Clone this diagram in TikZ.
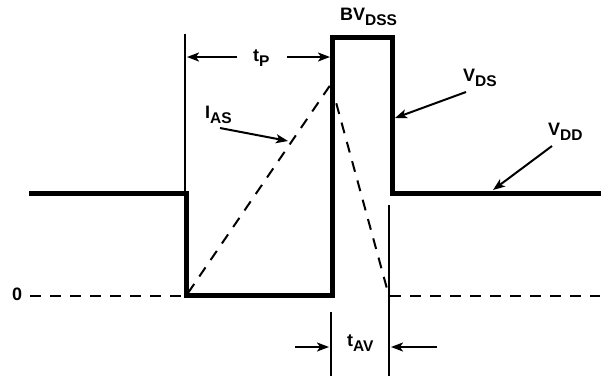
\documentclass[tikz,border=0pt]{standalone}
\usepackage{fontspec}
\setmainfont{Liberation Sans}
\usetikzlibrary{arrows.meta,positioning}

\newcommand{\lbl}[2]{#1\raisebox{-5pt}{\fontsize{15.5}{15.5}\selectfont #2}}

\begin{document}
\begin{tikzpicture}[x=1pt,y=-1pt,
  wave/.style={line width=5pt},
  hair/.style={line width=2pt},
  zero/.style={hair,dash pattern=on 11pt off 9pt},
  ptr/.style={hair,-{Stealth[length=12pt,width=9pt,inset=3pt]}},
  lab/.style={inner sep=0pt,anchor=base west,font=\fontsize{18}{20}\selectfont\bfseries}]
\useasboundingbox (0,0) rectangle (603,376);

\coordinate (w0) at (29,193);
\coordinate (w1) at (186,193);
\coordinate (w2) at (186,295);
\coordinate (w3) at (332,295);
\coordinate (w4) at (332,37);
\coordinate (w5) at (392,37);
\coordinate (w6) at (392,193);
\coordinate (w7) at (601,193);

\coordinate (z0) at (30,296);
\coordinate (z1) at (185,296);
\coordinate (z2) at (390,296);
\coordinate (z3) at (600,296);

\coordinate (peak) at (331,84);
\coordinate (foot) at (389,296);
\coordinate (start) at (188,293);

\coordinate (tptop) at (185,34);
\coordinate (tpbot) at (185,193);
\coordinate (av1top) at (331,312);
\coordinate (av1bot) at (331,376);
\coordinate (av2top) at (389,205);
\coordinate (av2bot) at (389,376);

\coordinate (tpl1) at (237,57);
\coordinate (tpl2) at (187,57);
\coordinate (tpr1) at (287,57);
\coordinate (tpr2) at (330,57);

\coordinate (ias1) at (220,128);
\coordinate (ias2) at (288,141);

\coordinate (vds1) at (466,92);
\coordinate (vds2) at (395,118);

\coordinate (vdd1) at (552,146);
\coordinate (vdd2) at (493,190);

\coordinate (avl1) at (295,347);
\coordinate (avl2) at (329,347);
\coordinate (avr1) at (437,347);
\coordinate (avr2) at (391,347);

\node[lab](n0) at (12,300){0};

\node[lab](bv) at (340,20){\lbl{BV}{DSS}};

\node[lab](tp) at (253,61){\lbl{t}{P}};

\node[lab](ias) at (205,118){\lbl{I}{AS}};

\node[lab](vds) at (463,81){\lbl{V}{DS}};

\node[lab](vdd) at (548,135){\lbl{V}{DD}};

\node[lab](tav) at (347,346){\lbl{t}{AV}};

\draw [wave] (w0) -- (w1) -- (w2) -- (w3) -- (w4) -- (w5) -- (w6) -- (w7);

\draw [zero] (z0) -- (z1);
\draw [zero] (z2) -- (z3);
\draw [zero] (start) -- (peak);
\draw [zero] (peak) -- (foot);

\draw [hair] (tptop) -- (tpbot);
\draw [hair] (av1top) -- (av1bot);
\draw [hair] (av2top) -- (av2bot);

\draw [ptr] (tpl1) -- (tpl2);
\draw [ptr] (tpr1) -- (tpr2);
\draw [ptr] (ias1) -- (ias2);
\draw [ptr] (vds1) -- (vds2);
\draw [ptr] (vdd1) -- (vdd2);
\draw [ptr] (avl1) -- (avl2);
\draw [ptr] (avr1) -- (avr2);

\end{tikzpicture}
\end{document}
